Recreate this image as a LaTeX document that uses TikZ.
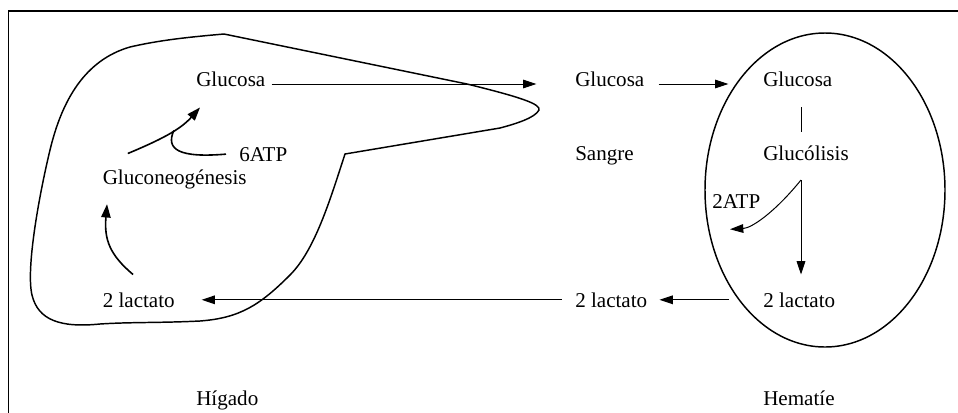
\documentclass[tikz,border=0pt]{standalone}
\usepackage{fontspec}
\setmainfont{Liberation Serif}
\usetikzlibrary{arrows.meta}

\begin{document}
\begin{tikzpicture}[x=0.75pt,y=-0.75pt,
lbl/.style={inner sep=0pt,anchor=base west,font=\fontsize{15.8}{18}\selectfont},
arr/.style={-{Triangle[length=10pt,width=6.5pt]},line width=0.75pt},
harr/.style={-{Triangle[length=10pt,width=7pt]},line width=1.2pt},
organ/.style={line width=1.1pt}]
\useasboundingbox (0,0) rectangle (958,412);
\clip (0,0) rectangle (958,412);
\draw[line width=1.1pt] (8.5,430) -- (8.5,11) -- (970,11);

% liver outline
\draw[organ] (224,34) -- (467,84) .. controls (520,97) and (541,104) .. (539,110)
  .. controls (535,118) and (515,124) .. (500,128) -- (345,154)
  .. controls (330,200) and (315,250) .. (290,275)
  .. controls (260,305) and (240,318) .. (200,321)
  .. controls (160,323) and (130,322) .. (100,324)
  .. controls (60,328) and (38,320) .. (32,295)
  .. controls (26,270) and (38,200) .. (50,150)
  .. controls (62,100) and (85,60) .. (130,47)
  .. controls (160,40) and (190,37) .. (224,34) -- cycle;
% red cell
\draw[organ] (825,190) ellipse [x radius=120, y radius=157];

% labels
\node[lbl] (hglu) at (196,86) {Glucosa};
\node[lbl] (atp6) at (239,161) {6ATP};
\node[lbl] (neo) at (102.5,184) {Gluconeogénesis};
\node[lbl] (hlac) at (102.5,307) {2 lactato};
\node[lbl] (hig) at (196,405) {Hígado};
\node[lbl] (sglu) at (575,86) {Glucosa};
\node[lbl] (sang) at (575,160) {Sangre};
\node[lbl] (slac) at (575,307) {2 lactato};
\node[lbl] (cglu) at (763,86) {Glucosa};
\node[lbl] (gly) at (763,160) {Glucólisis};
\node[lbl] (atp2) at (712,208) {2ATP};
\node[lbl] (clac) at (763,307) {2 lactato};
\node[lbl] (hem) at (763,405) {Hematíe};
\coordinate (split) at (801,180);

% transport through the blood
\draw[arr,shorten <=4.5pt,shorten >=29pt] ([yshift=-3.9pt]hglu.east) -- ([yshift=-3.9pt]sglu.west);
\draw[arr,shorten <=10.5pt,shorten >=26pt] ([yshift=-3.9pt]sglu.east) -- ([yshift=-3.9pt]cglu.west);
\draw[arr,shorten <=25.5pt,shorten >=9pt] (clac.west) -- (slac.east);
\draw[arr,shorten <=10pt,shorten >=20pt] (slac.west) -- (hlac.east);

% glycolysis in the red cell
\draw[line width=0.75pt,shorten <=15.75pt,shorten >=9.5pt] (cglu.south -| split) -- (gly.north -| split);
\draw[arr,shorten >=13.2pt] (split) -- (clac.north -| split);
\draw[arr] (split) .. controls (775,212) and (752,228) .. ([xshift=13.5pt,yshift=-15.75pt]atp2.south west);

% gluconeogenesis in the liver
\draw[harr] ([xshift=22.9pt,yshift=13.2pt]hlac.north west) .. controls (110,255) and (104,240) .. ([xshift=3.4pt,yshift=-11.5pt]neo.south west);
\draw[harr] ([xshift=19pt,yshift=11.7pt]neo.north west) .. controls (160,140) and (180,130) .. node[coordinate,pos=0.58] (merge) {} ([xshift=3pt,yshift=-15.75pt]hglu.south west);
\draw[line width=1.2pt] ([xshift=-9.75pt]atp6.west) .. controls (180,158) and (165,150) .. (merge);
\end{tikzpicture}
\end{document}
